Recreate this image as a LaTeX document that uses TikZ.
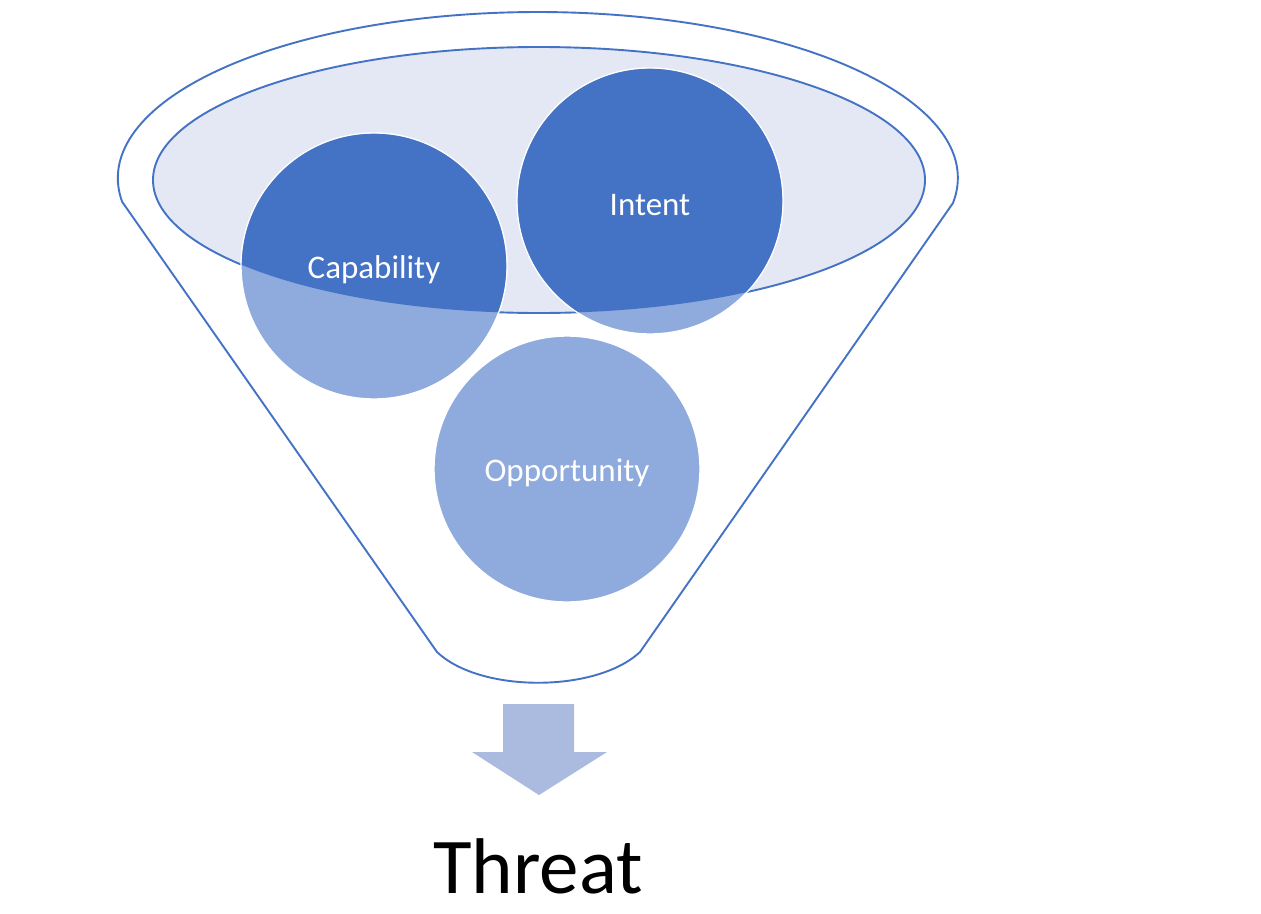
\documentclass[tikz,border=0pt]{standalone}
\usepackage{fontspec}
\setmainfont{Carlito}
\definecolor{funnelBlue}{HTML}{4472C4}
\definecolor{lightBlue}{HTML}{8FAADC}
\definecolor{rimFill}{HTML}{E4E8F4}
\definecolor{arrowBlue}{HTML}{ABBBDF}
\tikzset{funnelLine/.style={draw=funnelBlue, line width=1.9pt}}
\tikzset{factor/.style={circle, minimum size=266pt, inner sep=0pt, fill=lightBlue, draw=white, line width=1.4pt}}
\tikzset{factorText/.style={text=white, font=\fontsize{33}{33}\selectfont, yshift=-4pt}}

\begin{document}
\begin{tikzpicture}[x=1pt,y=-1pt]
\def \rimRx{386}
\def \rimRy{133}
\useasboundingbox (0,0) rectangle (1261,913);
\fill[white] (0,0) rectangle (1261,913);

% funnel body
\draw[funnelLine,line join=round] (123,203) -- (437,652) .. controls (480,693) and (596,693) .. (640,652) -- (953,203)
  arc[start angle=8.66, end angle=-188.66, x radius=420, y radius=166] -- cycle;

% rim
\draw[funnelLine, fill=rimFill] (539,180) ellipse[x radius=\rimRx, y radius=\rimRy];

% circles
\node[factor] (capability) at (374,266) {};
\node[factor] (intent) at (650,201) {};
\node[factor] (opportunity) at (567,469) {};

\begin{scope}
  \clip (539,180) ellipse[x radius=\rimRx, y radius=\rimRy];
  \fill[funnelBlue] (capability.center) circle[radius=132.2];
  \fill[funnelBlue] (intent.center) circle[radius=132.2];
\end{scope}

\node[factorText] (capabilityText) at (capability.center) {Capability};
\node[factorText] (intentText) at (intent.center) {Intent};
\node[factorText] (opportunityText) at (opportunity.center) {Opportunity};

%% output arrow
\fill[arrowBlue] (503,704) -- (574,704) -- (574,752) -- (607,752) -- (539,795) -- (472,752) -- (503,752) -- cycle;
\node[anchor=base, font=\fontsize{79}{79}\selectfont] (threat) at (538,893) {Threat};
\end{tikzpicture}
\end{document}
